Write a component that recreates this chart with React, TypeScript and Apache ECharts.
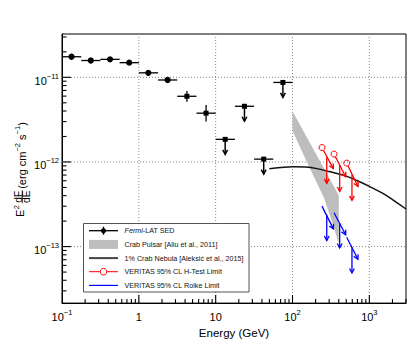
import React, { useEffect, useRef } from 'react';
import * as echarts from 'echarts';

// ---------------- data ----------------
const fermiE = [0.133, 0.237, 0.422, 0.75, 1.33, 2.37, 4.22, 7.5];
const fermiELo = [0.1, 0.178, 0.316, 0.562, 1.0, 1.78, 3.16, 5.62];
const fermiEHi = [0.178, 0.316, 0.562, 1.0, 1.78, 3.16, 5.62, 10];
const fermiF = [1.75e-11, 1.58e-11, 1.63e-11, 1.49e-11, 1.13e-11, 9.3e-12, 5.97e-12, 3.77e-12];
const fermiFLo = [1.615e-11, 1.47e-11, 1.52e-11, 1.4e-11, 1.05e-11, 8.55e-12, 5.15e-12, 3.01e-12];
const fermiFHi = [1.896e-11, 1.7e-11, 1.74e-11, 1.59e-11, 1.21e-11, 1.01e-11, 6.9e-12, 4.72e-12];
const fermiMarker = ['circle', 'circle', 'circle', 'circle', 'circle', 'circle', 'square', 'square'];

const ulE = [13.3, 23.7, 42.2, 75.0];
const ulELo = [10, 17.8, 31.6, 56.2];
const ulEHi = [17.8, 31.6, 56.2, 100];
const ulF = [1.85e-12, 4.55e-12, 1.08e-12, 8.7e-12];

const pulsarUpperE = [100, 400];
const pulsarUpperF = [3.97e-12, 4.03e-13];
const pulsarLowerE = [100, 144, 207, 255, 324, 400];
const pulsarLowerF = [2.33e-12, 1.14e-12, 5.69e-13, 3.82e-13, 2.02e-13, 1.09e-13];

const nebulaE = [50, 70, 100, 150, 200, 300, 500, 700, 1000, 1500, 2000, 3000];
const nebulaF = [8.3e-13, 8.6e-13, 8.8e-13, 8.7e-13, 8.4e-13, 7.7e-13, 6.8e-13, 6.0e-13, 5.15e-13, 4.25e-13, 3.6e-13, 2.78e-13];

const vtsELo = [242, 347, 507];
const vtsEMid = [279, 411, 594];
const vtsEHi = [340, 492, 711];
const hTestFLo = [1.48e-12, 1.24e-12, 9.69e-13];
const hTestFMid = [1.14e-12, 9.18e-13, 7.05e-13];
const hTestFHi = [8.34e-13, 6.68e-13, 5.12e-13];
const hTestTip = [5.58e-13, 4.48e-13, 3.52e-13];
const rolkeFLo = [3.01e-13, 2.51e-13, 1.29e-13];
const rolkeFMid = [2.38e-13, 1.9e-13, 9.82e-14];
const rolkeFHi = [1.62e-13, 1.38e-13, 7.08e-14];
const rolkeTip = [1.18e-13, 9.64e-14, 4.88e-14];

const xTickValues = [0.1, 1, 10, 100, 1000];
const xTickLabels = ['10^\u22121', '1', '10', '10^2', '10^3'];
const yTickValues = [1e-13, 1e-12, 1e-11];
const yTickLabels = ['10^\u221213', '10^\u221212', '10^\u221211'];
const X_MIN = 0.1;
const X_MAX = 3000;
const Y_MIN = 2.15e-14;
const Y_MAX = 3.25e-11;

const legendLabels = [
  '{i|Fermi}-LAT SED',
  'Crab Pulsar [Aliu et al., 2011]',
  '1% Crab Nebula [Aleksi\u0107 et al., 2015]',
  'VERITAS 95% CL H-Test Limit',
  'VERITAS 95% CL Rolke Limit',
];

// ---------------- helpers ----------------
const FONT = '"Liberation Sans", Arial, Helvetica, sans-serif';
const lg = Math.log10;

const toRich = (t: string) => {
  const [base, sup] = t.split('^');
  return `{b|${base}}` + (sup ? `{s|${sup}}` : '');
};

const richStyle = {
  b: { fontSize: 11, lineHeight: 14, verticalAlign: 'bottom', fontFamily: FONT, color: '#000', fontWeight: 'normal' },
  s: { fontSize: 7.5, lineHeight: 8, verticalAlign: 'top', fontFamily: FONT, color: '#000', fontWeight: 'normal' },
};

function arrowHead(x: number, y: number, dx: number, dy: number, len: number, half: number, color: string, lw: number) {
  const n = Math.hypot(dx, dy);
  const ux = dx / n;
  const uy = dy / n;
  const bx = x - ux * len;
  const by = y - uy * len;
  const px = -uy;
  const py = ux;
  return {
    type: 'polyline',
    shape: { points: [[bx + px * half, by + py * half], [x, y], [bx - px * half, by - py * half]] },
    style: { stroke: color, lineWidth: lw, fill: 'none' },
  };
}

function vtsSeries(name: string, fLo: number[], fMid: number[], fHi: number[], tip: number[], color: string, circle: boolean) {
  return {
    type: 'custom',
    name,
    z: 7,
    clip: false,
    data: vtsELo.map((e, i) => [lg(e), lg(fLo[i]), lg(vtsEHi[i]), lg(fHi[i]), lg(vtsEMid[i]), lg(fMid[i]), lg(tip[i])]),
    renderItem: (params: any, api: any) => {
      const a = api.coord([api.value(0), api.value(1)]);
      const b = api.coord([api.value(2), api.value(3)]);
      const m = api.coord([api.value(4), api.value(5)]);
      const t = api.coord([api.value(4), api.value(6)]);
      const dx = b[0] - a[0];
      const dy = b[1] - a[1];
      const n = Math.hypot(dx, dy);
      const r = 3;
      const sx = circle ? a[0] + (dx / n) * r : a[0];
      const sy = circle ? a[1] + (dy / n) * r : a[1];
      const ch: any[] = [
        { type: 'line', shape: { x1: sx, y1: sy, x2: b[0], y2: b[1] }, style: { stroke: color, lineWidth: 1.3 } },
        arrowHead(b[0], b[1], dx, dy, 4.5, 2.4, color, 1.3),
        { type: 'line', shape: { x1: m[0], y1: m[1], x2: t[0], y2: t[1] }, style: { stroke: color, lineWidth: 1.3 } },
        arrowHead(t[0], t[1], 0, 1, 4.5, 2.4, color, 1.3),
      ];
      if (circle) {
        ch.push({ type: 'circle', shape: { cx: a[0], cy: a[1], r }, style: { stroke: color, fill: 'none', lineWidth: 1 } });
      }
      return { type: 'group', children: ch };
    },
  };
}

function buildOption() {
  // band series also carries the frame decorations (grid lines + ticks), positioned through api.coord
  const band = {
    type: 'custom',
    z: 4,
    clip: false,
    data: [[lg(pulsarUpperE[0]), lg(pulsarUpperF[0])]],
    renderItem: (params: any, api: any) => {
      const ch: any[] = [];
      const y0 = lg(Y_MIN);
      const y1 = lg(Y_MAX);
      const x0 = lg(X_MIN);
      const x1 = lg(X_MAX);
      const bottom = api.coord([0, y0])[1];
      const top = api.coord([0, y1])[1];
      const left = api.coord([x0, -12])[0];
      const right = api.coord([x1, -12])[0];
      xTickValues.forEach((v) => {
        if (v <= X_MIN * 1.001) return;
        const px = api.coord([lg(v), -12])[0];
        ch.push({ type: 'line', shape: { x1: px, y1: top, x2: px, y2: bottom }, style: { stroke: '#888', lineWidth: 1, lineDash: [1, 2] } });
      });
      yTickValues.forEach((v) => {
        const py = api.coord([0, lg(v)])[1];
        ch.push({ type: 'line', shape: { x1: left, y1: py, x2: right, y2: py }, style: { stroke: '#888', lineWidth: 1, lineDash: [1, 2] } });
      });
      const pts: number[][] = [];
      pulsarUpperE.forEach((e, i) => pts.push(api.coord([lg(e), lg(pulsarUpperF[i])])));
      for (let i = pulsarLowerE.length - 1; i >= 0; i--) pts.push(api.coord([lg(pulsarLowerE[i]), lg(pulsarLowerF[i])]));
      ch.push({ type: 'polygon', shape: { points: pts }, style: { fill: '#bdbdbd', stroke: 'none' } });
      for (let k = -1; k <= 3; k++) {
        for (let m = 1; m <= 9; m++) {
          const v = m * Math.pow(10, k);
          if (v <= X_MIN * 1.0001 || v > X_MAX * 1.0001) continue;
          const px = api.coord([lg(v), -12])[0];
          const len = m === 1 ? 8 : 4;
          ch.push({ type: 'line', shape: { x1: px, y1: bottom, x2: px, y2: bottom - len }, style: { stroke: '#000', lineWidth: 1.1 } });
        }
      }
      for (let k = -14; k <= -11; k++) {
        for (let m = 1; m <= 9; m++) {
          const v = m * Math.pow(10, k);
          if (v <= Y_MIN || v >= Y_MAX) continue;
          const py = api.coord([0, lg(v)])[1];
          const len = m === 1 ? 9 : 4.5;
          ch.push({ type: 'line', shape: { x1: left, y1: py, x2: left + len, y2: py }, style: { stroke: '#000', lineWidth: 1.1 } });
        }
      }
      return { type: 'group', children: ch };
    },
  };

  const nebula = {
    type: 'line',
    z: 5,
    data: nebulaE.map((e, i) => [lg(e), lg(nebulaF[i])]),
    smooth: 0.4,
    showSymbol: false,
    symbol: 'none',
    lineStyle: { color: '#111', width: 1.5 },
  };

  const fermi = {
    type: 'custom',
    z: 6,
    data: fermiE.map((e, i) => [lg(e), lg(fermiF[i]), lg(fermiELo[i]), lg(fermiEHi[i]), lg(fermiFLo[i]), lg(fermiFHi[i])]),
    renderItem: (params: any, api: any) => {
      const p = api.coord([api.value(0), api.value(1)]);
      const l = api.coord([api.value(2), api.value(1)]);
      const h = api.coord([api.value(3), api.value(1)]);
      const lo = api.coord([api.value(0), api.value(4)]);
      const hi = api.coord([api.value(0), api.value(5)]);
      const marker = fermiMarker[params.dataIndex];
      const ch: any[] = [
        { type: 'line', shape: { x1: l[0], y1: p[1], x2: h[0], y2: p[1] }, style: { stroke: '#000', lineWidth: 1.3 } },
        { type: 'line', shape: { x1: p[0], y1: lo[1], x2: p[0], y2: hi[1] }, style: { stroke: '#000', lineWidth: 1.3 } },
      ];
      if (marker === 'circle') ch.push({ type: 'circle', shape: { cx: p[0], cy: p[1], r: 3.1 }, style: { fill: '#000' } });
      else ch.push({ type: 'rect', shape: { x: p[0] - 2.5, y: p[1] - 2.5, width: 5, height: 5 }, style: { fill: '#000' } });
      return { type: 'group', children: ch };
    },
  };

  const upper = {
    type: 'custom',
    z: 6,
    data: ulE.map((e, i) => [lg(e), lg(ulF[i]), lg(ulELo[i]), lg(ulEHi[i])]),
    renderItem: (params: any, api: any) => {
      const p = api.coord([api.value(0), api.value(1)]);
      const l = api.coord([api.value(2), api.value(1)]);
      const h = api.coord([api.value(3), api.value(1)]);
      const tipY = p[1] + 15;
      return {
        type: 'group',
        children: [
          { type: 'line', shape: { x1: l[0], y1: p[1], x2: h[0], y2: p[1] }, style: { stroke: '#000', lineWidth: 1.3 } },
          { type: 'line', shape: { x1: p[0], y1: p[1], x2: p[0], y2: tipY }, style: { stroke: '#000', lineWidth: 1.5 } },
          arrowHead(p[0], tipY, 0, 1, 4.5, 2.4, '#000', 1.5),
          { type: 'rect', shape: { x: p[0] - 2.5, y: p[1] - 2.5, width: 5, height: 5 }, style: { fill: '#000' } },
        ],
      };
    },
  };

  // legend (graphic)
  const LX = 83.5;
  const LY = 223.5;
  const LW = 165.5;
  const LH = 68.5;
  const rows = [230.7, 244.4, 258.1, 271.7, 285.4];
  const s1 = 89;
  const s2 = 118;
  const sc = (s1 + s2) / 2;
  const tx = 124.5;
  const legendGraphics: any[] = [
    { type: 'rect', shape: { x: LX, y: LY, width: LW, height: LH }, style: { fill: '#fff', stroke: '#555', lineWidth: 1 }, z: 100 },
    { type: 'line', shape: { x1: s1, y1: rows[0], x2: s2, y2: rows[0] }, style: { stroke: '#000', lineWidth: 1.3 }, z: 101 },
    { type: 'line', shape: { x1: sc, y1: rows[0] - 4, x2: sc, y2: rows[0] + 4 }, style: { stroke: '#000', lineWidth: 1.3 }, z: 101 },
    { type: 'circle', shape: { cx: sc, cy: rows[0], r: 2.6 }, style: { fill: '#000' }, z: 101 },
    { type: 'rect', shape: { x: s1, y: rows[1] - 4.5, width: s2 - s1, height: 9 }, style: { fill: '#bdbdbd' }, z: 101 },
    { type: 'line', shape: { x1: s1, y1: rows[2], x2: s2, y2: rows[2] }, style: { stroke: '#444', lineWidth: 2 }, z: 101 },
    { type: 'line', shape: { x1: s1, y1: rows[3], x2: sc - 3.3, y2: rows[3] }, style: { stroke: '#f00', lineWidth: 1 }, z: 101 },
    { type: 'line', shape: { x1: sc + 3.3, y1: rows[3], x2: s2, y2: rows[3] }, style: { stroke: '#f00', lineWidth: 1 }, z: 101 },
    { type: 'circle', shape: { cx: sc, cy: rows[3], r: 3.3 }, style: { fill: 'none', stroke: '#f00', lineWidth: 1 }, z: 101 },
    { type: 'line', shape: { x1: s1, y1: rows[4], x2: s2, y2: rows[4] }, style: { stroke: '#00f', lineWidth: 1.2 }, z: 101 },
  ];
  legendLabels.forEach((t, i) => {
    legendGraphics.push({
      type: 'text',
      x: tx,
      y: rows[i],
      z: 101,
      style: {
        text: t,
        fontSize: 7.2,
        fontFamily: FONT,
        fill: '#111',
        align: 'left',
        verticalAlign: 'middle',
        rich: { i: { fontSize: 7.2, fontFamily: FONT, fontStyle: 'italic', fill: '#111' } },
      },
    });
  });

  const rot = Math.PI / 2;
  const yTitle: any[] = [
    { type: 'text', x: 19.8, y: 217, rotation: rot, style: { text: 'E', fontSize: 11, fontFamily: FONT, fill: '#000', align: 'left', verticalAlign: 'middle' } },
    { type: 'text', x: 16.4, y: 209.2, rotation: rot, style: { text: '2', fontSize: 7.5, fontFamily: FONT, fill: '#000', align: 'left', verticalAlign: 'middle' } },
    { type: 'text', x: 18.3, y: 196.8, rotation: rot, style: { text: 'dF', fontSize: 10, fontFamily: FONT, fill: '#000', align: 'center', verticalAlign: 'middle' } },
    { type: 'line', shape: { x1: 22.3, y1: 190.3, x2: 22.3, y2: 203.2 }, style: { stroke: '#000', lineWidth: 0.8 } },
    { type: 'text', x: 26.6, y: 196.8, rotation: rot, style: { text: 'dE', fontSize: 10, fontFamily: FONT, fill: '#000', align: 'center', verticalAlign: 'middle' } },
    {
      type: 'text',
      x: 20.3,
      y: 188.8,
      rotation: rot,
      style: {
        text: '{b|(erg cm}{s|\u22122}{b| s}{s|\u22121}{b|)}',
        align: 'left',
        verticalAlign: 'middle',
        rich: richStyle,
      },
    },
  ];

  return {
    animation: false,
    backgroundColor: '#fff',
    grid: { left: 62, top: 34, width: 344, height: 275, show: true, borderColor: '#000', borderWidth: 1 },
    xAxis: {
      type: 'value',
      min: lg(X_MIN),
      max: lg(X_MAX),
      interval: 1,
      name: 'Energy (GeV)',
      nameLocation: 'middle',
      nameGap: 20,
      nameTextStyle: { fontSize: 11.5, fontFamily: FONT, color: '#000', fontWeight: 'normal' },
      axisLine: { show: true, onZero: false, lineStyle: { color: '#000', width: 1 } },
      axisTick: { show: false },
      splitLine: { show: false },
      axisLabel: {
        margin: 5,
        showMaxLabel: false,
        showMinLabel: true,
        formatter: (v: number) => {
          const i = xTickValues.findIndex((t) => Math.abs(lg(t) - v) < 1e-6);
          return i >= 0 ? toRich(xTickLabels[i]) : '';
        },
        rich: richStyle,
      },
    },
    yAxis: {
      type: 'value',
      min: lg(Y_MIN),
      max: lg(Y_MAX),
      axisLine: { show: true, onZero: false, lineStyle: { color: '#000', width: 1 } },
      axisTick: { show: false },
      splitLine: { show: false },
      axisLabel: {
        margin: 3,
        customValues: yTickValues.map((v) => lg(v)),
        padding: [4, 0, 0, 0],
        formatter: (v: number) => {
          const i = yTickValues.findIndex((t) => Math.abs(lg(t) - v) < 1e-6);
          return i >= 0 ? toRich(yTickLabels[i]) : '';
        },
        rich: richStyle,
      },
    },
    series: [
      band,
      nebula,
      fermi,
      upper,
      vtsSeries('VERITAS 95% CL H-Test Limit', hTestFLo, hTestFMid, hTestFHi, hTestTip, '#f00', true),
      vtsSeries('VERITAS 95% CL Rolke Limit', rolkeFLo, rolkeFMid, rolkeFHi, rolkeTip, '#00f', false),
    ],
    graphic: [...legendGraphics, ...yTitle],
  };
}

export default function App() {
  const ref = useRef<HTMLDivElement>(null);
  useEffect(() => {
    const chart = echarts.init(ref.current as HTMLDivElement, null, { renderer: 'svg' });
    chart.setOption(buildOption() as any);
    return () => chart.dispose();
  }, []);
  return <div ref={ref} style={{ position: 'fixed', left: 0, top: 0, width: 415, height: 344, background: '#fff' }} />;
}
